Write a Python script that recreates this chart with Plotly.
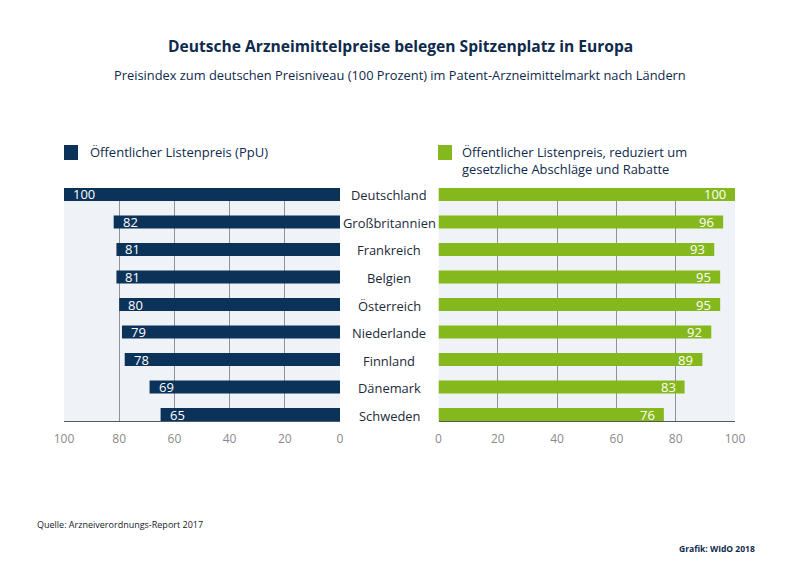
#!/usr/bin/env python3
"""Deutsche Arzneimittelpreise im Europavergleich: two mirrored bar panels."""
import plotly.graph_objects as go

countries = ["Deutschland", "Großbritannien", "Frankreich", "Belgien", "Österreich",
             "Niederlande", "Finnland", "Dänemark", "Schweden"]
list_price = [100, 82, 81, 81, 80, 79, 78, 69, 65]
reduced_price = [100, 96, 93, 95, 95, 92, 89, 83, 76]
left_ticks = [100, 80, 60, 40, 20, 0]
right_ticks = [0, 20, 40, 60, 80, 100]

title = "Deutsche Arzneimittelpreise belegen Spitzenplatz in Europa"
subtitle = "Preisindex zum deutschen Preisniveau (100 Prozent) im Patent-Arzneimittelmarkt nach Ländern"
left_legend = "Öffentlicher Listenpreis (PpU)"
right_legend = "Öffentlicher Listenpreis, reduziert um<br>gesetzliche Abschläge und Rabatte"
source = "Quelle: Arzneiverordnungs-Report 2017"
credit = "Grafik: WIdO 2018"

NAVY = "#0b3259"
GREEN = "#85b81c"
TEXT = "#0f2a4d"
BG = "#eff3f7"
GRID = "#8f9296"
TICK = "#8a8a8a"
FONT = "Open Sans"
# the page body has an 8px margin, so the figure is 8px smaller and coordinates shift
OFFSET = 8
W, H = 800 - OFFSET, 566 - OFFSET


def px(x):
    return (x - OFFSET) / W


def py(y):
    return 1 - (y - OFFSET) / H


fig = go.Figure()
positions = list(range(len(countries)))
fig.add_trace(go.Bar(x=list_price, y=positions, orientation="h", width=0.473,
                     marker=dict(color=NAVY, line_width=0), xaxis="x", yaxis="y"))
fig.add_trace(go.Bar(x=reduced_price, y=positions, orientation="h", width=0.473,
                     marker=dict(color=GREEN, line_width=0), xaxis="x2", yaxis="y2"))

annotations = []


def label(text, x, y, size=12, color=TEXT, anchor="left", xref="paper", yref="paper",
          xshift=0, yshift=0):
    annotations.append(dict(text=text, x=x, y=y, xref=xref, yref=yref, xanchor=anchor,
                            yanchor="middle", showarrow=False, xshift=xshift, yshift=yshift,
                            align="left", font=dict(family=FONT, size=size, color=color)))


label(f"<b>{title}</b>", px(400), py(46), size=15.6, anchor="center")
label(subtitle, px(400), py(75), size=12.85, anchor="center")
label(left_legend, px(88), py(152), size=13)
label(right_legend, px(460), py(160), size=12.9)
label(source, px(35), py(524), size=9, color="#14181f")
label(f"<b>{credit}</b>", px(757), py(548), size=8.5, anchor="right")

for i, name in enumerate(countries):
    label(name, px(389), i, size=12.9, color="#1c2a3a", anchor="center", yref="y", yshift=-1)
    label(str(list_price[i]), list_price[i], i, size=13, color="white",
          xref="x", yref="y", anchor="left", xshift=7)
    label(str(reduced_price[i]), reduced_price[i], i, size=13, color="white",
          xref="x2", yref="y2", anchor="right", xshift=-7)

shapes = [
    dict(type="rect", xref="paper", yref="paper", x0=px(64), x1=px(78), y0=py(145), y1=py(160),
         fillcolor=NAVY, line_width=0),
    dict(type="rect", xref="paper", yref="paper", x0=px(438), x1=px(452), y0=py(145), y1=py(160),
         fillcolor=GREEN, line_width=0),
    # panel backgrounds
    dict(type="rect", xref="paper", yref="paper", x0=px(64), x1=px(340), y0=py(421), y1=py(188),
         fillcolor=BG, line_width=0, layer="below"),
    dict(type="rect", xref="paper", yref="paper", x0=px(438.5), x1=px(735), y0=py(421), y1=py(188),
         fillcolor=BG, line_width=0, layer="below"),
]

x_common = dict(showgrid=True, gridcolor=GRID, gridwidth=1, zeroline=False, showline=True,
                linecolor="#55595e", linewidth=1, ticks="", ticklabelstandoff=7,
                tickfont=dict(family=FONT, size=12, color=TICK), tickmode="array",
                fixedrange=True)
y_common = dict(range=[8.236, -0.236], showticklabels=False, showgrid=False, zeroline=False,
                showline=False, ticks="", fixedrange=True)

fig.update_layout(
    width=W, height=H, margin=dict(l=0, r=0, t=0, b=0, autoexpand=False),
    paper_bgcolor="white", plot_bgcolor="rgba(0,0,0,0)",
    showlegend=False, barmode="overlay", font=dict(family=FONT),
    xaxis=dict(domain=[px(64), px(340)], range=[100, 0], tickvals=left_ticks,
               ticktext=[str(v) for v in left_ticks], anchor="y", **x_common),
    xaxis2=dict(domain=[px(438.5), px(735)], range=[0, 100], tickvals=right_ticks,
                ticktext=[str(v) for v in right_ticks], anchor="y2", **x_common),
    yaxis=dict(domain=[py(421), py(188)], anchor="x", **y_common),
    yaxis2=dict(domain=[py(421), py(188)], anchor="x2", **y_common),
    annotations=annotations, shapes=shapes,
)

fig.write_html("out.html")
